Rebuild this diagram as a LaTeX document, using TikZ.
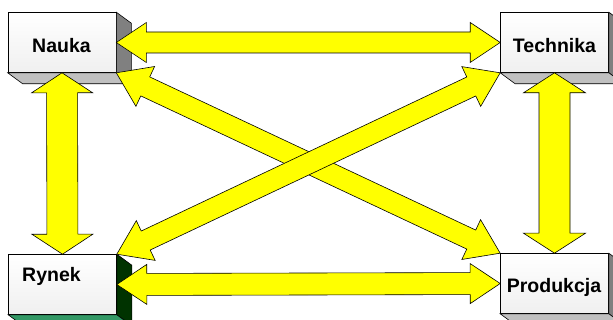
\documentclass[tikz,border=0pt]{standalone}
\usepackage{fontspec}
\setmainfont{Liberation Sans}
\usepackage{tikz}
\usetikzlibrary{positioning,calc}

\definecolor{sidegray}{RGB}{128,128,128}
\definecolor{basegray}{RGB}{192,192,192}
\definecolor{sidegreen}{RGB}{0,51,0}
\definecolor{basegreen}{RGB}{51,153,102}
\definecolor{arrowyellow}{RGB}{255,255,0}

% double block arrow: from, to, shaft half width, head half width, head length
\newcommand{\dblarrow}[5]{%
  \draw[blockarrow] let \p1=(#1), \p2=(#2),
      \n1={atan2(\y2-\y1,\x2-\x1)}, \n2={veclen(\x2-\x1,\y2-\y1)} in
    [shift={(\p1)}, rotate=\n1]
    (0,0) -- (#5,#4) -- (#5,#3) -- ({\n2-#5},#3) -- ({\n2-#5},#4) -- (\n2,0)
    -- ({\n2-#5},-#4) -- ({\n2-#5},-#3) -- (#5,-#3) -- (#5,-#4) -- cycle;}

\begin{document}
\begin{tikzpicture}[
    x=1pt, y=-1pt,
    box/.style={rectangle, draw, line width=0.6pt, top color=white, bottom color=gray!12,
      minimum width=108pt, minimum height=60pt, inner sep=0pt},
    tag/.style={anchor=base, font=\fontsize{19.5}{22}\selectfont\bfseries},
    blockarrow/.style={draw=black, line width=0.6pt, fill=arrowyellow, line join=miter}
]
\clip (0,0) rectangle (613,320);
\useasboundingbox (0,0) rectangle (613,320);

\node (nauka) [box] at (62,42.5) {};
\node (technika) [box] at (554.5,42.5) {};
\node (rynek) [box] at (62.5,284.5) {};
\node (produkcja) [box] at (554.5,283.5) {};

\foreach \b/\side/\base in {nauka/sidegray/basegray, technika/sidegray/basegray,
    rynek/sidegreen/basegreen, produkcja/sidegray/basegray} {
  \draw[line width=0.6pt, fill=\side] (\b.north east) -- ([shift={(15,11)}]\b.north east)
    -- ([shift={(15,11)}]\b.south east) -- (\b.south east) -- cycle;
  \draw[line width=0.6pt, fill=\base] (\b.south west) -- (\b.south east)
    -- ([shift={(15,11)}]\b.south east) -- ([shift={(15,11)}]\b.south west) -- cycle;
}

\node (naukatxt) [tag] at (61.5,53) {Nauka};
\node (technikatxt) [tag] at (554.5,53) {Technika};
\node (rynektxt) [tag] at (51.5,282) {Rynek};
\node (produkcjatxt) [tag] at (554,293) {Produkcja};

\dblarrow{nauka.east}{technika.west}{10.5}{20}{30}
\dblarrow{rynek.east}{produkcja.west}{11}{20}{30}
\dblarrow{nauka.south}{rynek.north}{15.5}{30.5}{20}
\dblarrow{technika.south}{produkcja.north}{15.5}{31}{20}
\dblarrow{nauka.south east}{produkcja.north west}{10.5}{22}{32}
\dblarrow{rynek.north east}{technika.south west}{10.5}{22}{32}

\end{tikzpicture}
\end{document}
